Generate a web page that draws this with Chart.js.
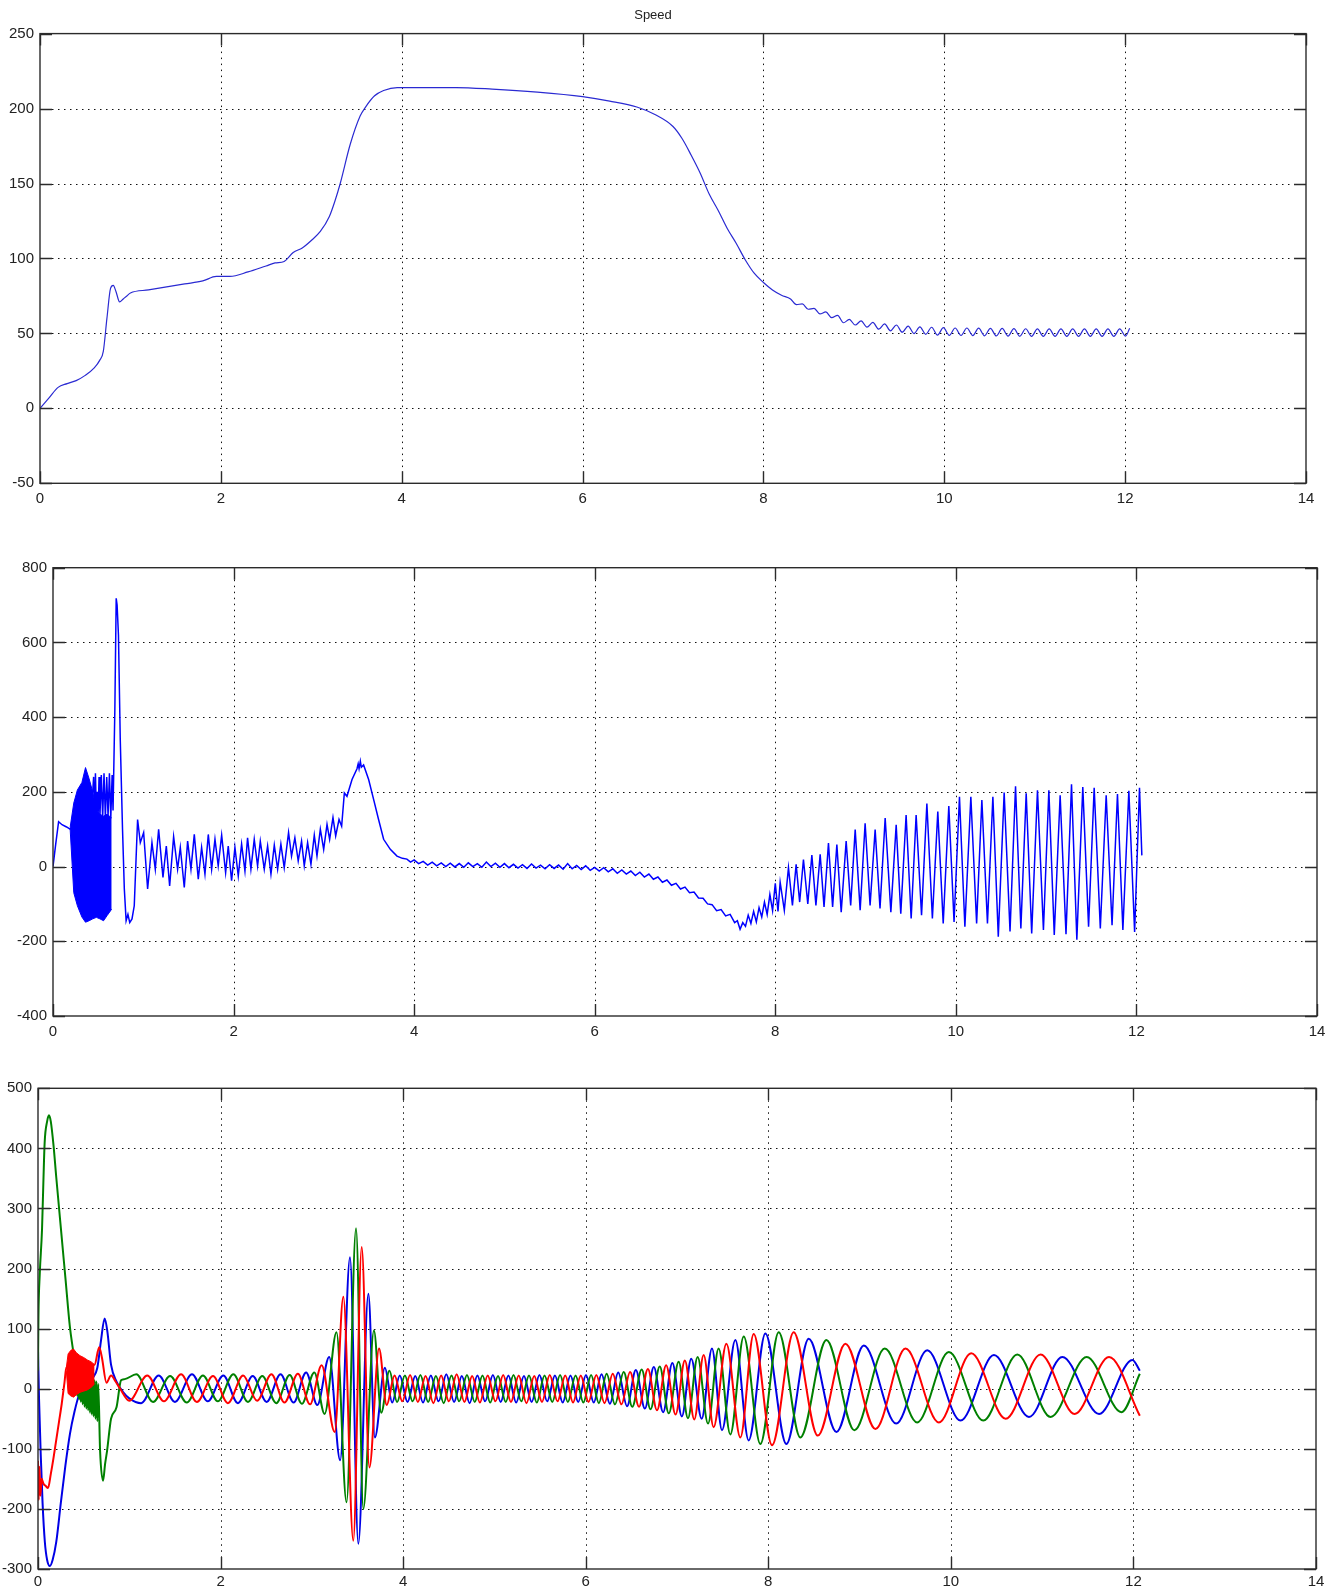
<!DOCTYPE html>
<html>
<head>
<meta charset="utf-8">
<title>Speed</title>
<script src="https://cdn.jsdelivr.net/npm/chart.js@4.4.0/dist/chart.umd.min.js"></script>
<style>
  html, body { margin: 0; padding: 0; background: #fff; }
  body { position: relative; width: 1335px; height: 1591px; overflow: hidden; }
  canvas { position: absolute; left: 0; }
</style>
</head>
<body>
<canvas id="speed-chart" width="1335" height="520" style="top:0"></canvas>
<canvas id="torque-chart" width="1335" height="504" style="top:548px"></canvas>
<canvas id="current-chart" width="1335" height="523" style="top:1068px"></canvas>
<script>
const FONT = '"Liberation Sans", Arial, sans-serif';
const X_TICKS = [0, 2, 4, 6, 8, 10, 12, 14];

// top plot: speed [time, value]
const speedPoints = [
  [0, 0], [0.1, 7], [0.2, 14], [0.3, 16.5], [0.4, 18.5], [0.5, 22], [0.6, 27], [0.66, 32],
  [0.7, 38], [0.74, 60], [0.78, 80], [0.81, 82], [0.84, 78], [0.88, 71], [0.92, 73], [0.96, 75],
  [1.0, 77], [1.2, 79], [1.4, 81], [1.6, 83], [1.8, 85], [1.95, 88], [2.1, 88], [2.3, 91],
  [2.5, 95], [2.6, 97], [2.7, 98], [2.8, 104], [2.9, 107], [3.0, 112], [3.1, 118], [3.2, 128],
  [3.26, 138], [3.32, 150], [3.43, 176], [3.54, 195], [3.6, 201], [3.7, 208.5], [3.8, 212],
  [3.95, 214], [4.3, 214], [4.6, 214], [5.0, 213], [5.5, 211], [6.0, 208], [6.3, 205], [6.6, 201],
  [6.8, 196], [7.0, 188], [7.1, 180], [7.2, 169], [7.3, 157], [7.4, 143], [7.5, 132], [7.6, 120],
  [7.7, 110], [7.8, 99], [7.9, 90], [8.0, 84], [8.1, 79], [8.2, 75.5],
  [8.3, 73], [8.365, 69.2], [8.43, 69.7], [8.495, 66.1], [8.56, 66.7], [8.625, 63], [8.69, 64.3],
  [8.755, 60.5], [8.82, 62], [8.885, 57.1], [8.95, 59.3], [9.015, 55.6], [9.08, 58.3], [9.145, 54.2],
  [9.21, 57.3], [9.275, 52.8], [9.34, 56.3], [9.405, 51.7], [9.47, 55.6], [9.535, 50.8], [9.6, 54.9],
  [9.665, 49.9], [9.73, 54.4], [9.795, 49.4], [9.86, 54.1], [9.925, 48.9], [9.99, 53.8], [10.055, 48.7],
  [10.12, 53.6], [10.185, 48.6], [10.25, 53.6], [10.315, 48.5], [10.38, 53.5], [10.445, 48.4],
  [10.51, 53.4], [10.575, 48.3], [10.64, 53.3], [10.705, 48.2], [10.77, 53.2], [10.835, 48.1],
  [10.9, 53.1], [10.965, 48], [11.03, 53], [11.095, 48], [11.16, 53], [11.225, 48], [11.29, 53],
  [11.355, 48], [11.42, 53], [11.485, 48], [11.55, 53], [11.615, 48], [11.68, 53], [11.745, 48],
  [11.81, 53], [11.875, 48], [11.94, 53], [12.005, 48.2], [12.05, 53.5],
];

// middle plot: torque [time, value]
const torqueBandTop = [
  [0.19, 105], [0.23, 170], [0.27, 205], [0.32, 225], [0.36, 265], [0.4, 235],
  [0.44, 200], [0.48, 150], [0.52, 140], [0.56, 135], [0.6, 140], [0.65, 130],
];
const torqueBandBottom = [
  [0.19, 100], [0.23, -70], [0.27, -105], [0.32, -135], [0.36, -149], [0.4, -145],
  [0.44, -140], [0.48, -136], [0.52, -140], [0.56, -145], [0.6, -131], [0.65, -114],
];
const torquePoints = [
  [0, 0], [0.03, 60], [0.062, 120], [0.1, 112], [0.15, 106], [0.19, 100],
  [0.44, 200], [0.45, 240], [0.46, 130], [0.47, 250], [0.48, 140], [0.49, 200], [0.5, 140],
  [0.51, 240], [0.52, 135], [0.535, 245], [0.55, 130], [0.565, 250], [0.58, 130], [0.595, 240],
  [0.61, 135], [0.625, 250], [0.64, 130], [0.655, 245], [0.665, 150],
  [0.685, 420], [0.7, 718], [0.71, 700], [0.725, 620], [0.745, 340], [0.77, 100], [0.79, -60],
  [0.81, -145], [0.83, -128], [0.85, -150], [0.875, -140], [0.9, -105], [0.92, 20], [0.937, 126],
  [0.967, 64], [1.004, 91], [1.048, -60], [1.096, 64], [1.133, -7], [1.17, 100], [1.218, -29],
  [1.255, 55], [1.292, -52], [1.336, 80], [1.38, -7], [1.41, 51], [1.454, -56], [1.491, 68],
  [1.528, -7], [1.565, 86], [1.609, -34], [1.646, 51], [1.683, -20], [1.72, 86], [1.757, -7],
  [1.794, 73], [1.83, 2], [1.868, 84], [1.912, -16], [1.941, 55], [1.978, -38], [2.015, 51],
  [2.052, -25], [2.089, 60], [2.126, -12], [2.155, 77], [2.192, -7], [2.229, 73], [2.266, 2],
  [2.296, 68], [2.34, -7], [2.377, 55], [2.414, -20], [2.451, 57], [2.488, -7], [2.524, 60],
  [2.561, -3], [2.609, 91], [2.642, 28], [2.679, 77], [2.716, 15], [2.753, 68], [2.783, 2],
  [2.82, 64], [2.857, 6], [2.894, 84], [2.924, 28], [2.961, 100], [2.998, 46], [3.035, 113],
  [3.064, 73], [3.101, 131], [3.131, 82], [3.168, 126], [3.197, 108], [3.227, 197], [3.256, 188],
  [3.312, 233], [3.367, 262], [3.38, 275], [3.39, 262], [3.404, 282], [3.415, 266], [3.44, 272],
  [3.496, 233], [3.551, 180], [3.606, 126], [3.662, 73], [3.736, 46], [3.81, 28], [3.87, 22],
  [3.92, 20], [3.96, 12],
  [4.0, 18], [4.05, 8], [4.1, 14], [4.15, 4], [4.2, 12], [4.25, 2], [4.3, 10], [4.35, 0],
  [4.4, 9], [4.45, -1], [4.5, 8], [4.55, -2], [4.6, 10], [4.65, 0], [4.7, 8], [4.75, -2],
  [4.8, 12], [4.85, 0], [4.9, 9], [4.95, -2], [5.0, 8], [5.05, -3], [5.1, 6], [5.15, -4],
  [5.2, 5], [5.25, -5], [5.3, 7], [5.35, -4], [5.4, 4], [5.45, -6], [5.5, 5], [5.55, -5],
  [5.6, 4], [5.65, -7], [5.7, 8], [5.75, -6], [5.8, 3], [5.85, -8], [5.9, 2], [5.95, -10],
  [6.0, -2], [6.05, -12], [6.1, -3], [6.15, -14], [6.2, -6], [6.25, -18], [6.3, -9], [6.35, -20],
  [6.4, -12], [6.45, -24], [6.5, -15], [6.55, -28], [6.6, -20], [6.65, -34], [6.7, -28], [6.75, -42],
  [6.8, -36], [6.85, -50], [6.9, -45], [6.95, -60], [7.0, -55], [7.05, -70], [7.1, -68], [7.15, -84],
  [7.2, -85], [7.25, -100], [7.3, -102], [7.35, -118], [7.4, -115], [7.45, -132], [7.5, -128],
  [7.55, -150], [7.58, -145], [7.61, -168], [7.64, -150], [7.67, -160], [7.7, -130], [7.73, -152],
  [7.76, -120], [7.79, -148], [7.82, -110], [7.85, -135], [7.88, -95], [7.91, -128], [7.94, -75],
  [7.97, -118],
  [8.0, -45], [8.03, -120], [8.054, -42], [8.1, -117], [8.146, -3], [8.19, -104], [8.231, 6],
  [8.27, -95], [8.312, 19], [8.36, -100], [8.405, 31], [8.45, -104], [8.497, 33], [8.54, -108],
  [8.589, 63], [8.635, -108], [8.682, 59], [8.73, -122], [8.785, 68], [8.835, -104], [8.885, 99],
  [8.94, -117], [8.995, 116], [9.05, -104], [9.106, 99], [9.16, -112], [9.217, 130], [9.28, -122],
  [9.339, 112], [9.39, -126], [9.449, 138], [9.505, -139], [9.56, 138], [9.62, -130], [9.679, 169],
  [9.74, -139], [9.8, 147], [9.86, -152], [9.922, 162], [9.98, -148], [10.04, 187], [10.1, -161],
  [10.166, 187], [10.23, -152], [10.288, 178], [10.35, -152], [10.41, 187], [10.47, -188],
  [10.535, 198], [10.6, -174], [10.661, 215], [10.72, -166], [10.779, 196], [10.84, -179],
  [10.904, 204], [10.97, -170], [11.03, 204], [11.09, -183], [11.155, 191], [11.22, -181],
  [11.281, 220], [11.34, -196], [11.406, 213], [11.47, -161], [11.532, 211], [11.6, -166],
  [11.665, 191], [11.73, -157], [11.79, 194], [11.85, -170], [11.916, 203], [11.98, -175],
  [12.034, 211], [12.06, 30],
];

// bottom plot: three phase currents [time, value]
const redBandTop = [
  [0.31, 35], [0.33, 58], [0.36, 64], [0.39, 66], [0.42, 60], [0.46, 55], [0.5, 52],
  [0.54, 48], [0.58, 45], [0.62, 40],
];
const redBandBottom = [
  [0.31, 30], [0.33, -8], [0.36, -12], [0.39, -14], [0.42, -10], [0.46, -6], [0.5, -4],
  [0.54, -2], [0.58, 2], [0.62, 8],
];
const redCurrent = [
  [0, -120], [0.008, -185], [0.016, -130], [0.026, -178], [0.04, -150], [0.06, -158], [0.085, -162],
  [0.11, -165], [0.14, -142], [0.17, -115], [0.2, -85], [0.23, -55], [0.26, -25], [0.29, 10],
  [0.31, 35], [0.62, 40], [0.67, 69], [0.7, 52], [0.75, 10], [0.8, 22], [0.85, 12], [0.9, 0],
  [1.0, -20], [1.197, 22], [1.38, -21], [1.567, 24], [1.74, -22], [1.917, 21], [2.08, -24],
  [2.247, 22], [2.4, -20], [2.557, 24], [2.7, -23], [2.847, 25], [2.98, -26], [3.107, 39],
  [3.25, -72], [3.345, 153], [3.454, -253], [3.546, 236], [3.63, -131], [3.736, 67], [3.82, -27],
  [3.906, 22], [3.991, -21], [4.076, 23], [4.161, -22], [4.246, 21], [4.331, -24], [4.416, 22],
  [4.501, -21], [4.586, 24], [4.671, -22], [4.756, 21], [4.841, -23], [4.926, 22], [5.011, -21],
  [5.096, 23], [5.181, -22], [5.266, 22], [5.351, -24], [5.436, 21], [5.521, -22], [5.606, 23],
  [5.691, -21], [5.776, 22], [5.861, -23], [5.946, 22], [6.031, -22], [6.116, 23], [6.206, -24],
  [6.296, 25], [6.391, -26], [6.486, 28], [6.584, -30], [6.681, 33], [6.781, -36], [6.881, 39],
  [6.984, -43], [7.086, 47], [7.189, -51], [7.292, 56], [7.401, -64], [7.541, 75], [7.694, -81],
  [7.84, 91], [8.041, -94], [8.278, 94], [8.542, -78], [8.845, 75], [9.174, -67], [9.503, 67],
  [9.869, -56], [10.223, 59], [10.6, -50], [10.983, 57], [11.357, -42], [11.733, 53], [12.07, -45],
];
const greenCurrent = [
  [0, 30], [0.005, 120], [0.019, 190], [0.044, 265], [0.06, 350], [0.073, 410], [0.1, 445],
  [0.12, 455], [0.14, 445], [0.17, 405], [0.2, 352], [0.25, 268], [0.3, 185], [0.35, 102],
  [0.385, 63], [0.42, 20], [0.43, -12], [0.44, 16], [0.45, -18], [0.46, 14], [0.47, -22],
  [0.48, 12], [0.49, -26], [0.5, 14], [0.51, -30], [0.52, 10], [0.53, -33], [0.54, 12],
  [0.55, -36], [0.56, 10], [0.57, -40], [0.58, 12], [0.59, -43], [0.6, 10], [0.61, -46],
  [0.62, 14], [0.63, -50], [0.64, 12], [0.65, -54], [0.66, 8], [0.68, -103], [0.713, -153],
  [0.735, -125], [0.757, -103], [0.8, -50], [0.86, -31], [0.91, 14], [0.95, 16], [1.077, 24],
  [1.26, -22], [1.447, 21], [1.63, -23], [1.807, 22], [1.97, -21], [2.14, 24], [2.3, -22],
  [2.457, 21], [2.61, -24], [2.757, 23], [2.89, -25], [3.027, 27], [3.14, -42], [3.27, 94],
  [3.38, -189], [3.484, 267], [3.564, -200], [3.68, 97], [3.76, -40], [3.849, 30], [3.934, -22],
  [4.019, 22], [4.104, -21], [4.189, 23], [4.274, -22], [4.359, 21], [4.444, -24], [4.529, 22],
  [4.614, -21], [4.699, 23], [4.784, -22], [4.869, 22], [4.954, -23], [5.039, 21], [5.124, -22],
  [5.209, 23], [5.294, -21], [5.379, 22], [5.464, -23], [5.549, 22], [5.634, -22], [5.719, 23],
  [5.804, -22], [5.889, 22], [5.974, -23], [6.059, 23], [6.144, -24], [6.229, 25], [6.32, -26],
  [6.416, 28], [6.51, -30], [6.613, 32], [6.71, -34], [6.811, 37], [6.91, -41], [7.018, 45],
  [7.12, -49], [7.226, 53], [7.34, -58], [7.456, 67], [7.584, -76], [7.731, 87], [7.913, -92],
  [8.114, 94], [8.351, -81], [8.637, 81], [8.944, -69], [9.276, 67], [9.631, -56], [9.978, 61],
  [10.355, -53], [10.728, 57], [11.093, -47], [11.488, 53], [11.869, -39], [12.07, 25],
];
const blueCurrent = [
  [0, 65], [0.012, -20], [0.03, -110], [0.05, -190], [0.075, -255], [0.1, -285], [0.13, -295],
  [0.16, -285], [0.2, -255], [0.25, -190], [0.3, -128], [0.35, -75], [0.4, -38], [0.45, -10],
  [0.5, 3], [0.55, 10], [0.6, 18], [0.65, 35], [0.69, 80], [0.73, 117], [0.76, 95], [0.8, 40],
  [0.86, 12], [0.93, -5], [1.0, -16], [1.13, -24], [1.322, 22], [1.5, -22], [1.687, 24],
  [1.86, -21], [2.03, 22], [2.19, -24], [2.352, 21], [2.505, -22], [2.657, 24], [2.8, -23],
  [2.937, 27], [3.06, -27], [3.19, 53], [3.31, -119], [3.418, 219], [3.509, -258], [3.619, 158],
  [3.69, -81], [3.8, 35], [3.88, -23], [3.963, 22], [4.048, -22], [4.133, 21], [4.218, -23],
  [4.303, 22], [4.388, -21], [4.473, 24], [4.558, -22], [4.643, 21], [4.728, -24], [4.813, 22],
  [4.898, -21], [4.983, 23], [5.068, -22], [5.153, 22], [5.238, -23], [5.323, 21], [5.408, -22],
  [5.493, 23], [5.578, -21], [5.663, 22], [5.748, -23], [5.833, 22], [5.918, -22], [6.003, 23],
  [6.088, -23], [6.173, 24], [6.265, -25], [6.356, 27], [6.453, -29], [6.549, 31], [6.648, -33],
  [6.746, 36], [6.848, -39], [6.949, 43], [7.053, -46], [7.156, 50], [7.27, -50], [7.383, 67],
  [7.493, -69], [7.639, 81], [7.785, -86], [7.968, 92], [8.198, -92], [8.443, 83], [8.747, -72],
  [9.046, 72], [9.401, -58], [9.741, 64], [10.106, -53], [10.472, 56], [10.856, -47],
  [11.221, 53], [11.624, -42], [11.989, 48], [12.07, 30],
];

function toXY(points) {
  return points.map(([x, y]) => ({ x, y }));
}

// MATLAB style: dotted grid under the data, box and inward ticks on top
const matlabAxes = {
  id: 'matlabAxes',
  beforeDatasetsDraw(chart) {
    const { ctx, chartArea: area, scales } = chart;
    ctx.save();
    ctx.strokeStyle = '#111';
    ctx.lineWidth = 1;
    ctx.setLineDash([1.5, 4.5]);
    ctx.beginPath();
    scales.x.ticks.forEach((tick) => {
      const px = Math.round(scales.x.getPixelForValue(tick.value)) + 0.5;
      if (px > area.left + 2 && px < area.right - 2) {
        ctx.moveTo(px, area.top);
        ctx.lineTo(px, area.bottom);
      }
    });
    scales.y.ticks.forEach((tick) => {
      const py = Math.round(scales.y.getPixelForValue(tick.value)) + 0.5;
      if (py > area.top + 2 && py < area.bottom - 2) {
        ctx.moveTo(area.left, py);
        ctx.lineTo(area.right, py);
      }
    });
    ctx.stroke();
    ctx.restore();
  },
  afterDatasetsDraw(chart) {
    const { ctx, chartArea: area, scales } = chart;
    const tickLen = 12;
    ctx.save();
    ctx.strokeStyle = '#2b2b2b';
    ctx.lineWidth = 1.4;
    ctx.beginPath();
    scales.x.ticks.forEach((tick) => {
      const px = Math.round(scales.x.getPixelForValue(tick.value)) + 0.5;
      ctx.moveTo(px, area.bottom);
      ctx.lineTo(px, area.bottom - tickLen);
      ctx.moveTo(px, area.top);
      ctx.lineTo(px, area.top + tickLen);
    });
    scales.y.ticks.forEach((tick) => {
      const py = Math.round(scales.y.getPixelForValue(tick.value)) + 0.5;
      ctx.moveTo(area.left, py);
      ctx.lineTo(area.left + tickLen, py);
      ctx.moveTo(area.right, py);
      ctx.lineTo(area.right - tickLen, py);
    });
    ctx.stroke();
    ctx.strokeRect(area.left, area.top, area.right - area.left, area.bottom - area.top);
    ctx.restore();
  },
};

function makeScales(yMin, yMax, yStep, yWidth, xHeight, xPad) {
  return {
    x: {
      type: 'linear',
      min: 0,
      max: 14,
      afterBuildTicks: (scale) => { scale.ticks = X_TICKS.map((value) => ({ value })); },
      afterFit: (scale) => { scale.height = xHeight; },
      grid: { display: false, drawTicks: false },
      border: { display: false },
      ticks: { padding: xPad, color: '#222', font: { family: FONT, size: 15 }, maxRotation: 0, autoSkip: false },
    },
    y: {
      type: 'linear',
      min: yMin,
      max: yMax,
      afterFit: (scale) => { scale.width = yWidth; },
      grid: { display: false, drawTicks: false },
      border: { display: false },
      ticks: { stepSize: yStep, padding: 6, color: '#222', font: { family: FONT, size: 15 } },
    },
  };
}

function makeChart(canvasId, datasets, scales, padding, title) {
  return new Chart(document.getElementById(canvasId), {
    type: 'line',
    data: { datasets },
    options: {
      responsive: false,
      animation: false,
      events: [],
      layout: { padding },
      elements: { point: { radius: 0 } },
      scales,
      plugins: {
        legend: { display: false },
        tooltip: { enabled: false },
        title: title
          ? { display: true, text: title, color: '#222', font: { family: FONT, size: 13, weight: 'normal' }, padding: { top: 8, bottom: 10 } }
          : { display: false },
      },
    },
    plugins: [matlabAxes],
  });
}

makeChart('speed-chart', [
  {
    data: toXY(speedPoints),
    borderColor: '#2a2ad2',
    borderWidth: 1.2,
    cubicInterpolationMode: 'monotone',
  },
], makeScales(-50, 250, 50, 40, 36.7, 7), { top: 0, right: 29, bottom: 0, left: 0 }, 'Speed');

makeChart('torque-chart', [
  {
    data: toXY(torqueBandTop),
    borderColor: '#0000ff',
    borderWidth: 1,
    backgroundColor: '#0000ff',
    fill: '+1',
  },
  {
    data: toXY(torqueBandBottom),
    borderColor: '#0000ff',
    borderWidth: 1,
  },
  {
    data: toXY(torquePoints),
    borderColor: '#0000ff',
    borderWidth: 1.5,
  },
], makeScales(-400, 800, 200, 53, 36, 7), { top: 19.7, right: 18, bottom: 0, left: 0 });

makeChart('current-chart', [
  {
    data: toXY(redBandTop),
    borderColor: '#ff0000',
    borderWidth: 1,
    backgroundColor: '#ff0000',
    fill: '+1',
  },
  {
    data: toXY(redBandBottom),
    borderColor: '#ff0000',
    borderWidth: 1,
  },
  {
    data: toXY(redCurrent),
    borderColor: '#ff0000',
    borderWidth: 2,
    cubicInterpolationMode: 'monotone',
  },
  {
    data: toXY(greenCurrent),
    borderColor: '#008000',
    borderWidth: 2,
    cubicInterpolationMode: 'monotone',
  },
  {
    data: toXY(blueCurrent),
    borderColor: '#0000e6',
    borderWidth: 2,
    cubicInterpolationMode: 'monotone',
  },
], makeScales(-300, 500, 100, 38, 22, 4), { top: 20.3, right: 19, bottom: 0, left: 0 });
</script>
</body>
</html>
